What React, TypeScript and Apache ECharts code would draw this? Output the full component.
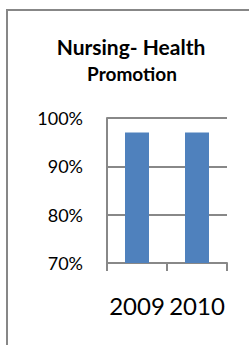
import React, { useEffect, useRef } from "react";
import * as echarts from "echarts";

const categories = ["2009", "2010"];
const values = [0.97, 0.97];
const yTicks = [0.7, 0.8, 0.9, 1.0];
const titleLine1 = "Nursing- Health";
const titleLine2 = "Promotion";

export default function App() {
  const ref = useRef<HTMLDivElement>(null);
  useEffect(() => {
    if (!ref.current) return;
    const chart = echarts.init(ref.current, null, { renderer: "svg" });
    const font = "Lato, 'Open Sans', sans-serif";
    chart.setOption({
      animation: false,
      backgroundColor: "#ffffff",
      graphic: [
        {
          type: "rect",
          shape: { x: 7, y: 10, width: 260, height: 360 },
          style: { fill: "none", stroke: "#878787", lineWidth: 2 },
          silent: true,
        },
        {
          type: "text",
          x: 131,
          y: 46,
          style: {
            text: titleLine1,
            font: "bold 21px " + font,
            fill: "#000",
            align: "center",
            verticalAlign: "middle",
          },
        },
        {
          type: "text",
          x: 132,
          y: 73,
          style: {
            text: titleLine2,
            font: "bold 19px " + font,
            fill: "#000",
            align: "center",
            verticalAlign: "middle",
          },
        },
      ],
      grid: { left: 107, right: 22, top: 118, bottom: 82 },
      xAxis: {
        type: "category",
        data: categories,
        boundaryGap: true,
        axisLine: { show: true, lineStyle: { color: "#888", width: 2 } },
        axisTick: { show: true, length: 8, lineStyle: { color: "#888", width: 2 } },
        axisLabel: {
          interval: 0,
          hideOverlap: false,
          margin: 30,
          fontSize: 24,
          color: "#000",
          fontFamily: font,
        },
      },
      yAxis: {
        type: "value",
        min: yTicks[0],
        max: yTicks[yTicks.length - 1],
        interval: 0.1,
        axisLine: { show: true, lineStyle: { color: "#888", width: 2 } },
        axisTick: { show: false },
        splitLine: { show: true, lineStyle: { color: "#888", width: 2 } },
        axisLabel: {
          margin: 24,
          fontSize: 18,
          color: "#000",
          fontFamily: font,
          formatter: (v: number) => Math.round(v * 100) + "%",
        },
      },
      series: [
        {
          type: "bar",
          data: values,
          barWidth: 24,
          itemStyle: { color: "#4f81bd" },
        },
      ],
    });
    return () => chart.dispose();
  }, []);
  return (
    <div
      ref={ref}
      style={{ position: "fixed", left: 0, top: 0, width: 249, height: 345 }}
    />
  );
}
